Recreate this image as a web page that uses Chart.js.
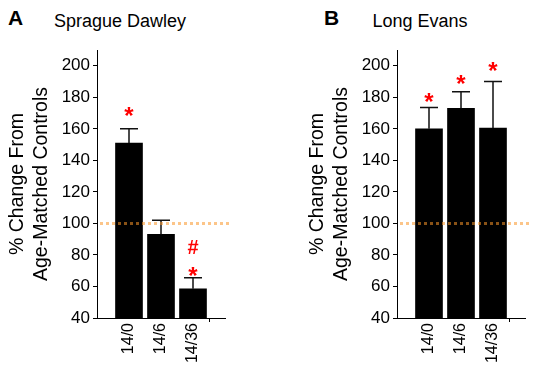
<!DOCTYPE html>
<html>
<head>
<meta charset="utf-8">
<script src="https://cdn.jsdelivr.net/npm/chart.js@4.4.0/dist/chart.umd.min.js"></script>
<style>
body { margin:0; background:#fff; width:534px; height:373px; position:relative; overflow:hidden; font-family: Arial, "Liberation Sans", sans-serif; color:#000; }
canvas { position:absolute; top:0; }
.letter { position:absolute; font-weight:bold; font-size:21px; line-height:21px; }
.title { position:absolute; font-size:18px; line-height:18px; white-space:nowrap; transform:translateX(-50%); }
</style>
</head>
<body>
<div class="letter" style="left:8px; top:7px;">A</div>
<div class="title" style="left:120px; top:12px;">Sprague Dawley</div>
<div class="letter" style="left:324px; top:7px;">B</div>
<div class="title" style="left:420px; top:12px;">Long Evans</div>
<canvas id="sd" width="300" height="373" style="left:0;"></canvas>
<canvas id="le" width="234" height="373" style="left:300px;"></canvas>
<script>
var groups = ['14/0', '14/6', '14/36'];
// Sprague Dawley
var sdMean = [151, 93, 58.5];
var sdErr = [9, 9, 7];
var sdStar = [171, null, 69.5];
var sdHash = [null, null, 85];
// Long Evans
var leMean = [160, 173, 160.5];
var leErr = [13.5, 10.5, 29.5];
var leStar = [180, 191, 199.5];
var leHash = [null, null, null];
var yMin = 40, yMax = 210, yStep = 20;
var controlLevel = 100;

Chart.defaults.font.family = 'Arial, "Liberation Sans", sans-serif';
Chart.defaults.color = '#000';

function drawMark(ctx, sym, font, x, cy) {
    ctx.font = font;
    var m = ctx.measureText(sym);
    ctx.fillText(sym, x, cy + (m.actualBoundingBoxAscent - m.actualBoundingBoxDescent) / 2);
}

var extras = {
    id: 'extras',
    afterDatasetsDraw: function(chart, args, opts) {
        var ctx = chart.ctx, y = chart.scales.y, area = chart.chartArea;
        var bars = chart.getDatasetMeta(0).data;
        ctx.save();
        // error bars (upper half only)
        ctx.strokeStyle = '#111';
        ctx.lineWidth = 1.5;
        opts.err.forEach(function(e, i) {
            var bar = bars[i + 1];
            var top = y.getPixelForValue(opts.mean[i] + e);
            ctx.beginPath();
            ctx.moveTo(bar.x, bar.y);
            ctx.lineTo(bar.x, top);
            ctx.moveTo(bar.x - 9, top);
            ctx.lineTo(bar.x + 9, top);
            ctx.stroke();
        });
        // control level line
        var ly = y.getPixelForValue(controlLevel);
        ctx.strokeStyle = 'rgba(250,150,40,0.55)';
        ctx.lineWidth = 3;
        ctx.setLineDash([3, 3]);
        ctx.beginPath();
        ctx.moveTo(area.left + 3, ly);
        ctx.lineTo(area.right + 6, ly);
        ctx.stroke();
        ctx.setLineDash([]);
        // significance marks
        ctx.fillStyle = '#ff0000';
        ctx.textAlign = 'center';
        ctx.textBaseline = 'alphabetic';
        opts.star.forEach(function(v, i) {
            if (v === null) return;
            drawMark(ctx, '*', 'bold 24px Arial, "Liberation Sans"', bars[i + 1].x, y.getPixelForValue(v));
        });
        opts.hash.forEach(function(v, i) {
            if (v === null) return;
            drawMark(ctx, '#', 'bold 20px Arial, "Liberation Sans"', bars[i + 1].x, y.getPixelForValue(v));
        });
        ctx.restore();
    }
};

function makeChart(id, mean, err, star, hash, rightPad) {
    return new Chart(document.getElementById(id), {
        type: 'bar',
        data: {
            labels: [''].concat(groups, ['']),
            datasets: [{
                data: [null].concat(mean, [null]),
                backgroundColor: '#000',
                borderWidth: 0,
                barThickness: 27
            }]
        },
        options: {
            responsive: false,
            animation: false,
            layout: { padding: { left: 0, right: rightPad, top: 50, bottom: 0 } },
            plugins: {
                legend: { display: false },
                tooltip: { enabled: false },
                extras: { mean: mean, err: err, star: star, hash: hash }
            },
            scales: {
                x: {
                    offset: false,
                    grid: {
                        display: true,
                        drawOnChartArea: false,
                        tickLength: 4,
                        color: function(c) { return c.index === groups.length + 1 ? '#000' : 'rgba(0,0,0,0)'; }
                    },
                    border: { display: true, color: '#000', width: 1 },
                    ticks: {
                        autoSkip: false,
                        minRotation: 90,
                        maxRotation: 90,
                        padding: 1,
                        color: '#000',
                        font: { size: 16 }
                    },
                    afterFit: function(s) { s.height = 55; s.paddingLeft = 0; s.paddingRight = 0; }
                },
                y: {
                    min: yMin,
                    max: yMax,
                    grid: {
                        display: true,
                        drawOnChartArea: false,
                        tickLength: 4,
                        color: '#000'
                    },
                    border: { display: true, color: '#000', width: 1 },
                    ticks: {
                        stepSize: yStep,
                        includeBounds: false,
                        padding: 3,
                        color: '#000',
                        font: { size: 17 }
                    },
                    title: {
                        display: true,
                        text: ['% Change From', 'Age-Matched Controls'],
                        color: '#000',
                        font: { size: 19.5, lineHeight: 1.23 },
                        padding: { top: 6, bottom: 0 }
                    },
                    afterFit: function(s) { s.width = 97; s.paddingTop = 0; s.paddingBottom = 0; }
                }
            }
        },
        plugins: [extras]
    });
}

makeChart('sd', sdMean, sdErr, sdStar, sdHash, 75);
makeChart('le', leMean, leErr, leStar, leHash, 9);
</script>
</body>
</html>
